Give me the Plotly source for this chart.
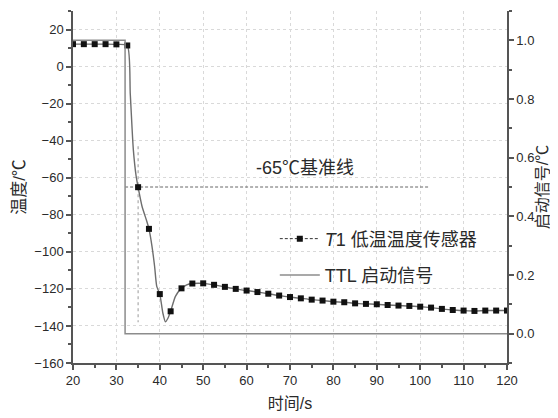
import plotly.graph_objects as go

# ---- data ----
sample_t = [20, 22.5, 25, 27.5, 30, 32.5, 35, 37.5, 40, 42.5, 45, 47.5, 50, 52.5, 55,
            57.5, 60, 62.5, 65, 67.5, 70, 72.5, 75, 77.5, 80, 82.5, 85, 87.5, 90, 92.5,
            95, 97.5, 100, 102.5, 105, 107.5, 110, 112.5, 115, 117.5, 120]
sample_v = [12.1, 12.1, 12.1, 12.1, 12.0, 11.4, -65.1, -87.6, -122.8, -132.1, -119.7,
            -117.1, -117.0, -117.8, -118.9, -120.0, -120.9, -121.7, -122.6, -123.6,
            -124.4, -125.1, -125.8, -126.3, -126.9, -127.2, -127.8, -128.1, -128.3,
            -128.7, -129.0, -129.2, -129.6, -130.1, -130.8, -131.4, -131.7, -131.9,
            -131.7, -131.7, -131.7]

# extra points of the continuous curve between samples
curve_t = [33.2, 33.9, 34.55, 35.9, 37.0, 38.2, 38.8, 39.3, 40.7, 41.3, 41.9, 43.6, 46.2]
curve_v = [-15.0, -44.8, -59.2, -75.4, -83.5, -97.0, -107.8, -118.6, -133.0, -137.8, -135.7,
           -124.0, -117.8]

ttl_t = [20, 32, 32, 120]
ttl_v = [1.0, 1.0, 0.0, 0.0]

ref_level = -65
ref_span = [32, 102]
ref_time = 35
ref_vspan = [-43, -138]

x_ticks = [20, 30, 40, 50, 60, 70, 80, 90, 100, 110, 120]
y_ticks = [20, 0, -20, -40, -60, -80, -100, -120, -140, -160]
y2_ticks = [0.0, 0.2, 0.4, 0.6, 0.8, 1.0]
y2_labels = ["0.0", "0.2", "0.4", "0.6", "0.8", "1.0"]

# merge samples and curve points for the smooth line
pts = sorted(zip(sample_t + curve_t, sample_v + curve_v))
line_t = [p[0] for p in pts]
line_v = [p[1] for p in pts]

FONT = "Liberation Sans, Arial, Noto Sans CJK SC, sans-serif"
TXT = "#2a2a2a"
AX = "#555555"
GRID = "#d9d9d9"

fig = go.Figure()

# reference lines
fig.add_trace(go.Scatter(x=ref_span, y=[ref_level, ref_level], mode="lines",
                         line=dict(color="#666666", width=1, dash="3px,2px"),
                         showlegend=False, hoverinfo="skip"))
fig.add_trace(go.Scatter(x=[ref_time, ref_time], y=ref_vspan, mode="lines",
                         line=dict(color="#999999", width=1, dash="dot"),
                         showlegend=False, hoverinfo="skip"))

# TTL signal on secondary axis
fig.add_trace(go.Scatter(x=ttl_t, y=ttl_v, mode="lines", yaxis="y2",
                         line=dict(color="#8c8c8c", width=1.5),
                         name="TTL 启动信号", showlegend=False))

# T1 smooth curve
fig.add_trace(go.Scatter(x=line_t, y=line_v, mode="lines",
                         line=dict(color="#6e6e6e", width=1.4, shape="spline", smoothing=0.6),
                         showlegend=False, hoverinfo="skip"))
# T1 markers
fig.add_trace(go.Scatter(x=sample_t, y=sample_v, mode="markers",
                         marker=dict(symbol="square", size=6, color="#111111"),
                         showlegend=False))

# legend entries
fig.add_trace(go.Scatter(x=[None], y=[None], mode="lines+markers",
                         line=dict(color="#333333", width=1, dash="3px,2px"),
                         marker=dict(symbol="square", size=6, color="#111111"),
                         name="<i>T</i>1 低温温度传感器", legendgroup="a"))
fig.add_trace(go.Scatter(x=[None], y=[None], mode="lines",
                         line=dict(color="#8c8c8c", width=1.5),
                         name="TTL 启动信号", legendgroup="b"))

fig.add_annotation(x=73.5, y=-54.5, text="-65℃基准线", showarrow=False,
                   font=dict(family=FONT, size=18, color=TXT), xref="x", yref="y")

# page body has an 8px margin, so the figure is sized/offset to compensate
fig.update_layout(
    width=550, height=410,
    margin=dict(l=65, r=51, t=3, b=55),
    paper_bgcolor="white", plot_bgcolor="white",
    font=dict(family=FONT, size=13, color=TXT),
    legend=dict(x=0.465, y=0.405, xanchor="left", yanchor="top",
                bgcolor="rgba(0,0,0,0)", font=dict(size=18, color=TXT),
                tracegroupgap=10, itemwidth=40),
    xaxis=dict(range=[20, 120], tickvals=x_ticks, showline=True, linecolor=AX, linewidth=1.5,
               ticks="outside", ticklen=5, tickcolor=AX, tickwidth=1.5, automargin=False,
               minor=dict(dtick=5, ticks="outside", ticklen=3, tickcolor=AX, showgrid=False),
               showgrid=True, gridcolor=GRID, griddash="dot", gridwidth=1,
               zeroline=False, tickfont=dict(size=13),
               title=dict(text="时间/s", font=dict(size=16), standoff=10)),
    yaxis=dict(range=[-160, 30], tickvals=y_ticks, showline=True, linecolor=AX, linewidth=1.5,
               ticks="outside", ticklen=5, tickcolor=AX, tickwidth=1.5, automargin=False,
               minor=dict(dtick=10, tick0=0, ticks="outside", ticklen=3, tickcolor=AX, showgrid=False),
               showgrid=True, gridcolor=GRID, griddash="dot", gridwidth=1,
               zeroline=False, tickfont=dict(size=13),
               title=dict(text="温度/℃", font=dict(size=17), standoff=4)),
    yaxis2=dict(range=[-0.1, 1.1], tickvals=y2_ticks, ticktext=y2_labels,
                overlaying="y", side="right", showline=True, linecolor=AX, linewidth=1.5,
                ticks="outside", ticklen=5, tickcolor=AX, tickwidth=1.5, automargin=False,
                minor=dict(dtick=0.1, tick0=0, ticks="outside", ticklen=3, tickcolor=AX, showgrid=False),
                showgrid=False, zeroline=False, tickfont=dict(size=13),
                title=dict(text="启动信号/℃", font=dict(size=16), standoff=3)),
)

fig.write_html("out.html")
